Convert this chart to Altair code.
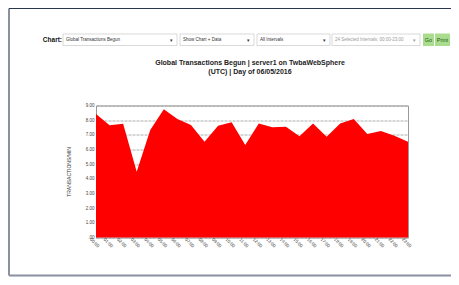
import altair as alt
import pandas as pd

hours = [f"{h:02d}:00" for h in range(24)]
values = [8.42, 7.65, 7.76, 4.49, 7.33, 8.74, 8.08, 7.67, 6.53, 7.62, 7.85, 6.31,
          7.78, 7.51, 7.55, 6.90, 7.78, 6.87, 7.78, 8.08, 7.06, 7.26, 6.94, 6.53]
title_lines = ["Global Transactions Begun | server1 on TwbaWebSphere",
               "(UTC) | Day of 06/05/2016"]
dropdowns = ["Global Transactions Begun", "Show Chart + Data", "All Intervals",
             "24 Selected Intervals: 00:00-23:00"]
buttons = ["Go", "Print"]
y_title = "TRANSACTIONS/MIN"

df = pd.DataFrame({"hour": hours, "value": values})
one = pd.DataFrame({"k": [0]})
FONT = "Liberation Sans"

area = alt.Chart(df).mark_area(color="#ff0000", opacity=1, line=False).encode(
    x=alt.X("hour:O", sort=hours, scale=alt.Scale(type="point", padding=0),
            axis=alt.Axis(title=None, labelAngle=45, labelAlign="center", labelBaseline="top",
                          labelFontSize=4.5, labelColor="#444", labelPadding=3, tickSize=0,
                          domain=False, labelFont=FONT)),
    y=alt.Y("value:Q", scale=alt.Scale(domain=[0, 9], nice=False),
            axis=alt.Axis(title=y_title, values=list(range(10)),
                          labelExpr="datum.value == 0 ? '.00' : format(datum.value, '.2f')",
                          labelFontSize=4.5, labelColor="#444", titleFontSize=5,
                          titleFontWeight="normal", titleColor="#333", titlePadding=14,
                          grid=True, gridColor="#999", gridDash=[3, 1], gridWidth=0.8,
                          tickSize=0, domain=False, labelFont=FONT, titleFont=FONT)),
)

layers = [area]

def rect(x1, x2, y1, y2, fill, stroke=None, sw=0.7):
    kw = dict(fill=fill)
    if stroke:
        kw.update(stroke=stroke, strokeWidth=sw)
    return alt.Chart(one).mark_rect(**kw).encode(
        x=alt.value(x1), x2=alt.value(x2), y=alt.value(y1), y2=alt.value(y2))

def text(t, x, y, size=5, color="#333", weight="normal", align="left", font=FONT):
    return alt.Chart(one).mark_text(text=t, fontSize=size, color=color, fontWeight=weight,
                                   align=align, baseline="middle", font=font).encode(
        x=alt.value(x), y=alt.value(y))

# frame
layers.append(alt.Chart(one).mark_rule(color="#8a90a0", strokeWidth=2).encode(
    x=alt.value(-87), y=alt.value(-97), y2=alt.value(170)))
layers.append(alt.Chart(one).mark_rule(color="#8a90a0", strokeWidth=2).encode(
    x=alt.value(-87), x2=alt.value(360), y=alt.value(170)))
layers.append(alt.Chart(one).mark_rule(color="#2a3550", strokeWidth=1).encode(
    x=alt.value(-87), x2=alt.value(360), y=alt.value(-97)))

# toolbar
ty = -65.5
layers.append(text("Chart:", -34, ty, size=6.5, color="#111", weight="bold", align="right"))
boxes = [(-33, 81), (84, 158), (161, 234), (236, 324)]
for i, (lbl, (a, b)) in enumerate(zip(dropdowns, boxes)):
    layers.append(rect(a, b, -71.5, -60, "#ffffff", "#c8c8c8"))
    layers.append(text(lbl, a + 3, ty, size=4.5, color="#999" if i == 3 else "#333"))
    layers.append(text("▾", b - 6, ty, size=5, color="#999" if i == 3 else "#333", align="center"))
for lbl, (a, b) in zip(buttons, [(327, 338), (339, 354)]):
    layers.append(rect(a, b, -72, -59.5, "#a9dc8c"))
    layers.append(text(lbl, (a + b) / 2, ty, size=5.5, color="#1c5a10", align="center"))

# title
layers.append(text(title_lines[0], 154, -43, size=7, color="#222", weight="bold", align="center"))
layers.append(text(title_lines[1], 154, -34, size=7, color="#222", weight="bold", align="center"))

chart = alt.layer(*layers).properties(
    width=312, height=132,
    autosize=alt.AutoSizeParams(type="none"),
    padding={"left": 88, "top": 97.5, "right": 43, "bottom": 39.5},
    background="white",
).configure_view(stroke="#999", strokeWidth=1)

chart.save("out.html", embed_options={"renderer": "svg", "actions": False})
